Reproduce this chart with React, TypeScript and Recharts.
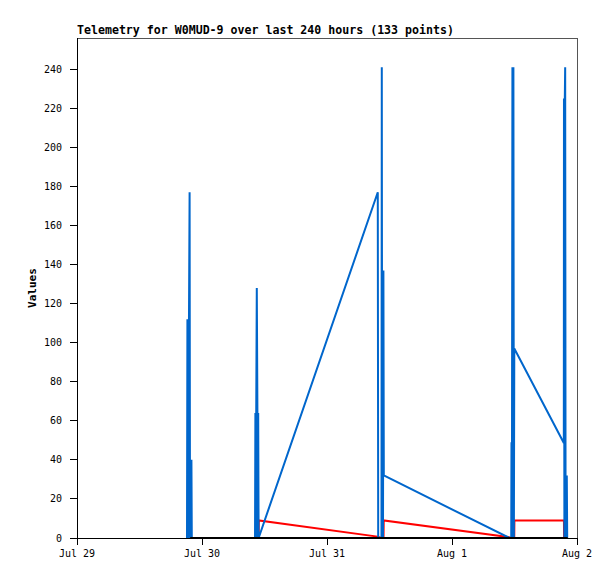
import React from 'react';
import { LineChart, Line, XAxis, YAxis, ReferenceLine } from 'recharts';

// hours since Jul 29 00:00
const xTicks = [0, 24, 48, 72, 96];
const xTickLabels = ['Jul 29', 'Jul 30', 'Jul 31', 'Aug 1', 'Aug 2'];
const yTicks = [0, 20, 40, 60, 80, 100, 120, 140, 160, 180, 200, 220, 240];

const blueT = [
  21.12, 21.2, 21.27, 21.35, 21.43, 21.5, 21.62, 21.7, 21.81, 21.89, 21.97, 22.04,
  34.18, 34.25, 34.33, 34.41, 34.52, 34.64, 34.71, 34.79, 34.87,
  57.75, 57.83, 58.46, 58.52, 58.6, 58.67, 58.75, 58.83, 58.91,
  83.04, 83.37, 83.42, 83.5, 83.6, 83.69, 83.79, 83.88, 83.96,
  93.47, 93.5, 93.58, 93.66, 93.73, 93.81, 93.89, 93.96, 94.04, 94.12,
];
const blueV = [
  0, 112, 0, 112, 0, 112, 177, 0, 40, 0, 40, 0,
  0, 64, 0, 64, 128, 64, 0, 64, 0,
  177, 0, 0, 241, 0, 137, 0, 137, 32,
  0, 0, 49, 0, 241, 0, 241, 0, 97,
  48.6, 225, 0, 225, 241, 0, 32, 0, 32, 0,
];

const redT = [21.73, 34.87, 34.91, 57.7, 58.46, 58.85, 58.89, 82.75, 83.39, 83.95, 83.98, 93.49, 93.52, 94.12];
const redV = [0, 0, 9, 0.7, 0, 0, 9, 0.5, 0, 0, 9, 9, 0, 0];

const blackT = [21.73, 94.21];
const blackV = [0, 0];

const build = (ts: number[], vs: number[]) => ts.map((t, i) => ({ t, v: vs[i] }));
const blueData = build(blueT, blueV);
const redData = build(redT, redV);
const blackData = build(blackT, blackV);

const tickFont = { fontFamily: 'DejaVu Sans Mono', fontSize: 10, fill: '#000' };

export default function App() {
  return (
    <div style={{ position: 'absolute', left: 0, top: 0, width: 615, height: 579, background: '#fff' }}>
      <div
        style={{
          position: 'absolute',
          left: 77,
          top: 25,
          fontFamily: 'DejaVu Sans Mono',
          fontWeight: 'bold',
          fontSize: 11.6,
          lineHeight: 1,
          color: '#000',
          whiteSpace: 'nowrap',
        }}
      >
        Telemetry for W0MUD-9 over last 240 hours (133 points)
      </div>
      <div
        style={{
          position: 'absolute',
          left: 32,
          top: 288,
          transform: 'translate(-50%, -50%) rotate(-90deg)',
          fontFamily: 'DejaVu Sans Mono',
          fontWeight: 'bold',
          fontSize: 11,
          lineHeight: 1,
          color: '#000',
          whiteSpace: 'nowrap',
        }}
      >
        Values
      </div>
      <LineChart width={615} height={579} margin={{ top: 38, right: 38, bottom: 11, left: 0 }}>
        <XAxis
          type="number"
          dataKey="t"
          domain={[0, 96]}
          ticks={xTicks}
          tickFormatter={(v: number) => xTickLabels[xTicks.indexOf(v)] ?? ''}
          tick={tickFont}
          tickSize={7}
          tickMargin={5}
          height={30}
          stroke="#000"
          axisLine={{ stroke: '#000', strokeWidth: 1, shapeRendering: 'crispEdges' }}
          tickLine={{ stroke: '#000', shapeRendering: 'crispEdges' }}
          allowDataOverflow
        />
        <YAxis
          type="number"
          dataKey="v"
          domain={[0, 256]}
          ticks={yTicks}
          tick={tickFont}
          tickSize={7}
          tickMargin={8}
          width={77}
          axisLine={{ stroke: '#000', strokeWidth: 1, shapeRendering: 'crispEdges' }}
          tickLine={{ stroke: '#000', shapeRendering: 'crispEdges' }}
          allowDataOverflow
        />
        <ReferenceLine y={256} stroke="#555" strokeWidth={1} shapeRendering="crispEdges" />
        <ReferenceLine x={96} stroke="#555" strokeWidth={1} shapeRendering="crispEdges" />
        <Line data={redData} dataKey="v" type="linear" stroke="#ff0000" strokeWidth={2} dot={false} isAnimationActive={false} />
        <Line data={blueData} dataKey="v" type="linear" stroke="#0066cc" strokeWidth={2} dot={false} isAnimationActive={false} />
        <Line data={blackData} dataKey="v" type="linear" stroke="#000000" strokeWidth={2.2} dot={false} isAnimationActive={false} />
      </LineChart>
    </div>
  );
}
